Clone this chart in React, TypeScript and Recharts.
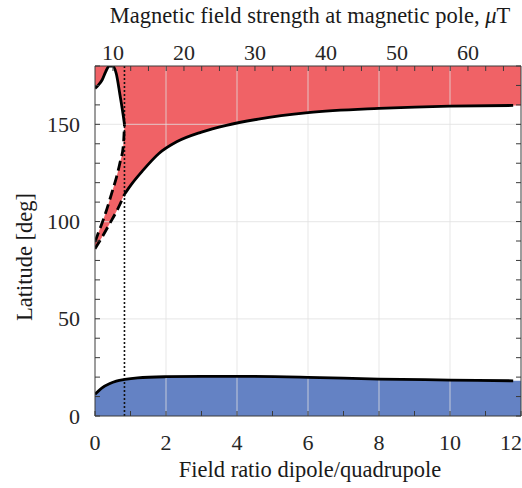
import { Area, ComposedChart, Line, ReferenceLine, XAxis, YAxis } from "recharts";

const FONT = '"Liberation Serif", "Times New Roman", serif';
const RED = "#f06266";
const BLUE = "#6482c4";
const AXIS = "#3a3a3a";
const TEXT = "#262626";

const W = 522;
const H = 488;
const PLOT_LEFT = 95;
const PLOT_TOP = 66;
const PLOT_BOTTOM = 416;
const PLOT_RIGHT = 521;
const TICK = 5;

const X_MAX = 12;
const Y_MAX = 180;
const CRITICAL_RATIO = 0.83;

// field strength at the pole grows linearly with the ratio
const UT_AT_ZERO = 7.47;
const UT_PER_RATIO = 5;

const xTicks = [0, 1, 2, 3, 4, 5, 6, 7, 8, 9, 10, 11, 12];
const xGrid = [2, 4, 6, 8, 10];
const yTicks = [0, 10, 20, 30, 40, 50, 60, 70, 80, 90, 100, 110, 120, 130, 140, 150, 160, 170, 180];
const yGrid = [50, 100, 150];
const topTicks = [10, 12.5, 15, 17.5, 20, 22.5, 25, 27.5, 30, 32.5, 35, 37.5, 40, 42.5, 45, 47.5, 50, 52.5, 55, 57.5, 60, 62.5, 65];

// left lobe (below ratio ~0.83): solid upper edge, dashed lower edge
const lobeRatio = [0, 0.1, 0.2, 0.3, 0.4, 0.5, 0.6, 0.7, 0.8, 0.83];
const lobeUpper = [168.5, 170.3, 172.8, 177, 180, 180, 176, 165.5, 154, 150];
const lobeLower = [89.5, 94.5, 99.3, 104.5, 110.3, 116.3, 122.5, 130, 139.5, 150];

// dashed continuation of the main branch
const lowRatio = [0, 0.2, 0.4, 0.6];
const lowBranch = [86, 92, 98.5, 105];

// main northern branch
const mainRatio = [0.83, 1.0, 1.35, 1.8, 2.3, 3.0, 3.7, 4.6, 6.0, 8.0, 10.0, 11.78];
const mainBranch = [114, 118.5, 126.3, 135, 141, 146, 149.5, 152.7, 156, 158.2, 159.4, 159.7];

// southern branch
const poleRatio = [0, 0.2, 0.42, 0.6, 0.84, 1.2, 2, 3, 4, 6, 8, 10, 11.78];
const poleBranch = [11.2, 14.5, 16.7, 17.9, 18.8, 19.6, 20.2, 20.4, 20.4, 19.9, 19.0, 18.5, 18.1];

const pts = (xs: number[], ys: number[]) => xs.map((x, i) => ({ x, lat: ys[i] }));

const redFill = [
  ...lowRatio.map((x, i) => ({ x, band: [lowBranch[i], Y_MAX] })),
  ...mainRatio.map((x, i) => ({ x, band: [mainBranch[i], Y_MAX] })),
  { x: X_MAX, band: [mainBranch[mainBranch.length - 1], Y_MAX] },
];
const lobeFill = lobeRatio.map((x, i) => ({ x, band: [lobeLower[i], lobeUpper[i]] }));
const poleFill = [
  ...pts(poleRatio, poleBranch),
  { x: X_MAX, lat: poleBranch[poleBranch.length - 1] },
];

const mainLine = pts(mainRatio, mainBranch);
const lowLine = pts([...lowRatio, mainRatio[0]], [...lowBranch, mainBranch[0]]);
const lobeTopLine = pts(lobeRatio, lobeUpper);
const lobeBottomLine = pts(lobeRatio, lobeLower);
const poleLine = pts(poleRatio, poleBranch);
// same branch expressed in field strength, so the top axis has a series
const mainInField = mainRatio.map((x, i) => ({ ut: UT_AT_ZERO + UT_PER_RATIO * x, lat: mainBranch[i] }));

const tickFont = { fontFamily: FONT, fontSize: 22 };
const titleFont = { fontFamily: FONT, fontSize: 22.5 };

function BottomTick(props: any) {
  const { x, payload } = props;
  const v = payload.value;
  const last = v === X_MAX;
  return (
    <g>
      <line x1={x} x2={x} y1={PLOT_BOTTOM} y2={PLOT_BOTTOM - TICK} stroke={AXIS} />
      {v % 2 === 0 && (
        <text x={last ? W : x} y={PLOT_BOTTOM + 34} textAnchor={last ? "end" : "middle"} fill={TEXT} {...tickFont} style={tickFont}>
          {v}
        </text>
      )}
    </g>
  );
}

function TopTick(props: any) {
  const { x, payload } = props;
  const v = payload.value;
  return (
    <g>
      <line x1={x} x2={x} y1={PLOT_TOP} y2={PLOT_TOP + TICK} stroke={AXIS} />
      {v % 10 === 0 && (
        <text x={x} y={PLOT_TOP - 6} textAnchor="middle" fill={TEXT} {...tickFont} style={tickFont}>
          {v}
        </text>
      )}
    </g>
  );
}

function LeftTick(props: any) {
  const { y, payload } = props;
  const v = payload.value;
  return (
    <g>
      <line x1={PLOT_LEFT} x2={PLOT_LEFT + TICK} y1={y} y2={y} stroke={AXIS} />
      {v % 50 === 0 && (
        <text x={PLOT_LEFT - 15} y={y + 7.5} textAnchor="end" fill={TEXT} {...tickFont} style={tickFont}>
          {v}
        </text>
      )}
    </g>
  );
}

function RightTick(props: any) {
  const { y } = props;
  return <line x1={PLOT_RIGHT} x2={PLOT_RIGHT - TICK} y1={y} y2={y} stroke={AXIS} />;
}

export default function App() {
  return (
    <div style={{ position: "fixed", left: 0, top: 0, width: W, height: H, background: "#fff", fontFamily: FONT }}>
      <ComposedChart width={W} height={H} margin={{ top: 0, right: 0, bottom: 0, left: 0 }} style={{ fontFamily: FONT }}>
        <XAxis
          dataKey="x"
          type="number"
          domain={[0, X_MAX]}
          ticks={xTicks}
          interval={0}
          height={H - PLOT_BOTTOM}
          stroke={AXIS}
          tickLine={false}
          tick={<BottomTick />}
          allowDataOverflow
          label={{
            value: "Field ratio dipole/quadrupole",
            content: () => (
              <text x={(PLOT_LEFT + PLOT_RIGHT) / 2 + 2} y={477} textAnchor="middle" fill="#1a1a1a" {...titleFont} style={titleFont}>
                Field ratio dipole/quadrupole
              </text>
            ),
          }}
        />
        <XAxis
          xAxisId="top"
          dataKey="ut"
          orientation="top"
          type="number"
          domain={[UT_AT_ZERO, UT_AT_ZERO + UT_PER_RATIO * X_MAX]}
          ticks={topTicks}
          interval={0}
          height={PLOT_TOP}
          stroke={AXIS}
          tickLine={false}
          tick={<TopTick />}
          allowDataOverflow
          label={{
            value: "Magnetic field strength at magnetic pole",
            content: () => (
              <text x={310} y={23} textAnchor="middle" fill="#1a1a1a" {...titleFont} style={titleFont}>
                Magnetic field strength at magnetic pole, <tspan fontStyle="italic">μ</tspan>T
              </text>
            ),
          }}
        />
        <YAxis
          type="number"
          domain={[0, Y_MAX]}
          ticks={yTicks}
          interval={0}
          width={PLOT_LEFT}
          stroke={AXIS}
          tickLine={false}
          tick={<LeftTick />}
          allowDataOverflow
          label={{
            value: "Latitude [deg]",
            content: () => (
              <text x={32} y={257} textAnchor="middle" transform="rotate(-90 32 257)" fill="#1a1a1a" {...titleFont} style={titleFont}>
                Latitude [deg]
              </text>
            ),
          }}
        />
        <YAxis
          yAxisId="right"
          orientation="right"
          type="number"
          domain={[0, Y_MAX]}
          ticks={yTicks}
          interval={0}
          width={W - PLOT_RIGHT}
          stroke={AXIS}
          tickLine={false}
          tick={<RightTick />}
          allowDataOverflow
        />

        <Area data={redFill} dataKey="band" type="monotone" fill={RED} fillOpacity={1} stroke="none" isAnimationActive={false} />
        <Area data={lobeFill} dataKey="band" type="monotone" fill="#ffffff" fillOpacity={1} stroke="none" isAnimationActive={false} />
        <Area data={poleFill} dataKey="lat" type="monotone" baseValue={0} fill={BLUE} fillOpacity={1} stroke="none" isAnimationActive={false} />

        {xGrid.map((g) => (
          <ReferenceLine key={`gx${g}`} x={g} stroke="#e0e0e0" strokeOpacity={0.65} strokeWidth={1.2} />
        ))}
        {yGrid.map((g) => (
          <ReferenceLine key={`gy${g}`} y={g} stroke="#e0e0e0" strokeOpacity={0.65} strokeWidth={1.2} />
        ))}
        <ReferenceLine x={CRITICAL_RATIO} stroke="#111" strokeWidth={1.6} strokeDasharray="2 2" />

        <Line data={mainLine} dataKey="lat" type="monotone" stroke="#000" strokeWidth={2.8} dot={false} isAnimationActive={false} />
        <Line data={lowLine} dataKey="lat" type="monotone" stroke="#000" strokeWidth={2.8} strokeDasharray="10 5" dot={false} isAnimationActive={false} />
        <Line data={lobeTopLine} dataKey="lat" type="monotone" stroke="#000" strokeWidth={2.8} dot={false} isAnimationActive={false} />
        <Line data={lobeBottomLine} dataKey="lat" type="monotone" stroke="#000" strokeWidth={2.8} strokeDasharray="10 5" dot={false} isAnimationActive={false} />
        <Line data={poleLine} dataKey="lat" type="monotone" stroke="#000" strokeWidth={2.8} dot={false} isAnimationActive={false} />

        {/* invisible carriers so the top and right axes get a scale */}
        <Line xAxisId="top" data={mainInField} dataKey="lat" stroke="none" dot={false} activeDot={false} isAnimationActive={false} />
        <Line yAxisId="right" data={poleLine} dataKey="lat" stroke="none" dot={false} activeDot={false} isAnimationActive={false} />
      </ComposedChart>
    </div>
  );
}
